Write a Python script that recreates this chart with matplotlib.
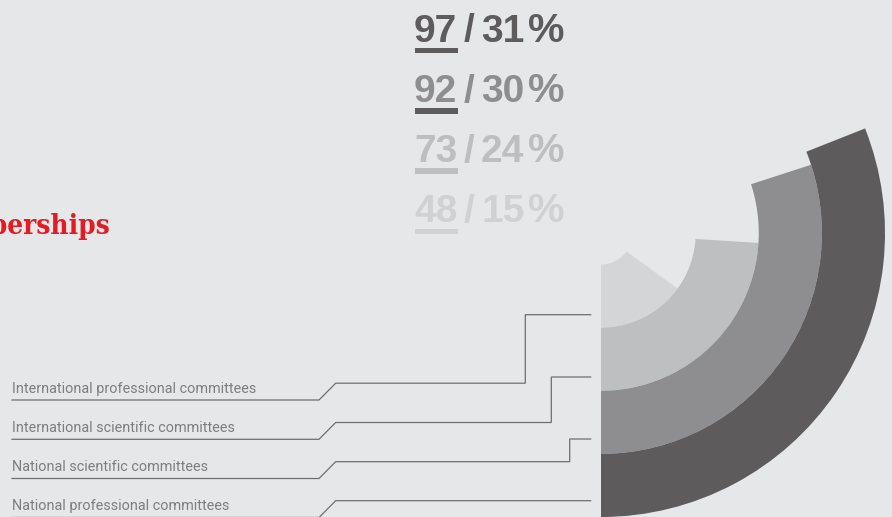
import numpy as np
import matplotlib
matplotlib.use("Agg")
import matplotlib.pyplot as plt
from matplotlib.patches import Rectangle

# data, innermost ring first
categories = ["International professional committees",
              "International scientific committees",
              "National scientific committees",
              "National professional committees"]
counts = [48, 73, 92, 97]
shares = [15, 24, 30, 31]   # percent of all memberships
ring_cols = ["#d4d5d7", "#bebfc1", "#8e8e90", "#5e5b5c"]
text_cols = ["#d0d1d3", "#bdbec0", "#8e8e90", "#5e5b5c"]
bar_cols = ["#d0d1d3", "#bdbec0", "#5e5b5c", "#5e5b5c"]
title = "Memberships"

bg = "#e6e7e9"
W, H = 892, 517
fig = plt.figure(figsize=(W / 100, H / 100), dpi=100, facecolor=bg)

# radial rings, starting straight down and running counter clockwise
cx, cy, rpx = 601, 233, 284
pax = fig.add_axes([(cx - rpx) / W, (H - cy - rpx) / H, 2 * rpx / W, 2 * rpx / H],
                   projection="polar")
pax.set_theta_zero_location("S")
pax.set_theta_direction(1)
for i, (s, c) in enumerate(zip(shares, ring_cols)):
    pax.bar(0, 1, width=np.deg2rad(s * 3.6), bottom=0.5 + i,
            align="edge", color=c, linewidth=0, clip_on=False)
pax.set_ylim(0, 4.5)
pax.set_axis_off()

# overlay in pixel coords for the text and the leader lines
ax = fig.add_axes([0, 0, 1, 1])
ax.set_xlim(0, W)
ax.set_ylim(H, 0)
ax.set_axis_off()

# big numbers at the top, outermost ring first
for k, i in enumerate(range(3, -1, -1)):
    base = 41.5 + 60.3 * k
    kw = dict(fontsize=28, fontweight="bold", family="Liberation Sans",
              color=text_cols[i], va="baseline")
    ax.text(414, base, str(counts[i]), ha="left", **kw)
    ax.text(469.5, base, "/", ha="center", **kw)
    ax.text(481, base, "%d" % shares[i], ha="left", **kw)
    ax.text(528, base, "%", ha="left", fontsize=29.5, fontweight="bold",
            family="Liberation Sans", color=text_cols[i], va="baseline")
    ax.add_patch(Rectangle((415, base + 6.2), 43, 5.6, color=bar_cols[i], lw=0))

ax.text(110, 234, title, ha="right", va="baseline", fontsize=20,
        fontweight="bold", fontstretch="condensed", family="DejaVu Serif",
        color="#e31b23")

# labels with leader lines to the rings
lab_y = [400, 439.3, 478.5, 517.5]
end_y = [314.7, 377, 439, 501.3]
step_x = [525.3, 551.3, 569.7, None]
lc = "#6f6f71"
for i, name in enumerate(categories):
    y0 = lab_y[i]
    y1 = y0 - 16.8
    ax.text(12, y0 - 7.5, name, ha="left", va="baseline", fontsize=10.4,
            family="Roboto", color="#7e7e80")
    if step_x[i] is None:
        xs = [12, 319, 335.7, 590.7]
        ys = [y0, y0, y1, y1]
    else:
        xs = [12, 319, 335.7, step_x[i], step_x[i], 590.7]
        ys = [y0, y0, y1, y1, end_y[i], end_y[i]]
    ax.plot(xs, ys, color=lc, lw=0.9, solid_joinstyle="miter", clip_on=False)

fig.savefig("out.png", dpi=100, facecolor=bg)
